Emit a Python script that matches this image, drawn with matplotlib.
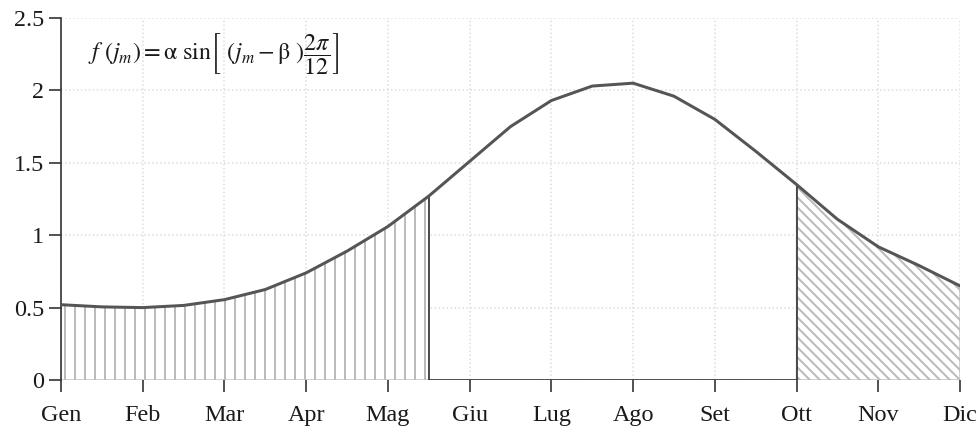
import numpy as np
import matplotlib
matplotlib.use("Agg")
import matplotlib.pyplot as plt

# monthly tick labels
mesi = ["Gen", "Feb", "Mar", "Apr", "Mag", "Giu", "Lug", "Ago", "Set", "Ott", "Nov", "Dic"]

# curve sampled every half month (Gen ... Dic)
t = [0, 0.5, 1, 1.5, 2, 2.5, 3, 3.5, 4, 4.5, 5, 5.5, 6, 6.5, 7, 7.5, 8, 8.5, 9, 9.5, 10, 10.5, 11]
f = [0.52, 0.505, 0.50, 0.515, 0.555, 0.625, 0.74, 0.89, 1.06, 1.27, 1.51, 1.75, 1.93, 2.03, 2.05,
     1.96, 1.80, 1.58, 1.35, 1.11, 0.92, 0.79, 0.65]

# limits of the two shaded periods
fine_primo = 4.5   # meta' maggio
inizio_secondo = 9  # ottobre

yticks = [0, 0.5, 1, 1.5, 2, 2.5]
ylabels = ["0", "0.5", "1", "1.5", "2", "2.5"]

t = np.array(t)
f = np.array(f)

plt.rcParams["font.family"] = ["Liberation Serif", "DejaVu Serif"]
plt.rcParams["mathtext.fontset"] = "stix"
plt.rcParams["hatch.linewidth"] = 1.2

fig = plt.figure(figsize=(976 / 120, 427 / 120), dpi=120)
ax = fig.add_axes([61 / 976, 1 - 380 / 427, (960 - 61) / 976, (380 - 18) / 427])

hatch_col = "#bbbbbb"
m1 = t <= fine_primo
m2 = t >= inizio_secondo
ax.fill_between(t[m1], 0, f[m1], facecolor="white", edgecolor=hatch_col, hatch="||", linewidth=0.8, zorder=2)
ax.fill_between(t[m2], 0, f[m2], facecolor="white", edgecolor=hatch_col, hatch="\\\\\\\\", linewidth=0.8, zorder=2)

# outline of the unshaded middle period
i1 = np.where(t == fine_primo)[0][0]
i2 = np.where(t == inizio_secondo)[0][0]
ax.vlines([t[i1], t[i2]], 0, [f[i1], f[i2]], color="#333333", linewidth=1.0, zorder=3)
ax.hlines(0, t[i1], t[i2], color="#333333", linewidth=1.0, zorder=3)

ax.plot(t, f, color="#555555", linewidth=1.8, zorder=4, solid_joinstyle="round")

ax.set_xlim(0, 11)
ax.set_ylim(0, 2.5)
ax.set_xticks(range(len(mesi)))
ax.set_xticklabels(mesi, fontsize=14.5, color="#1a1a1a")
ax.set_yticks(yticks)
ax.set_yticklabels(ylabels, fontsize=14.5, color="#1a1a1a")

ax.grid(True, color="#dcdcdc", linestyle=":", linewidth=0.9, zorder=0)
ax.set_axisbelow(True)

for s in ["top", "right", "bottom"]:
    ax.spines[s].set_visible(False)
ax.spines["left"].set_color("#333333")
ax.spines["left"].set_linewidth(1.0)
ax.tick_params(axis="both", direction="out", length=7, width=1.0, color="#333333")
ax.tick_params(axis="x", pad=8)
ax.tick_params(axis="y", pad=3)

formula = (r"$f\ (j_m) = \mathrm{α}\ \mathrm{sin}\left[\ \left(j_m - \mathrm{β}\ \right)"
           r"\dfrac{2\pi}{12}\right]$")
ax.text(0.33, 2.25, formula, fontsize=14.5, va="center", ha="left", color="#1a1a1a")

fig.savefig("out.png", dpi=120, facecolor="white")
